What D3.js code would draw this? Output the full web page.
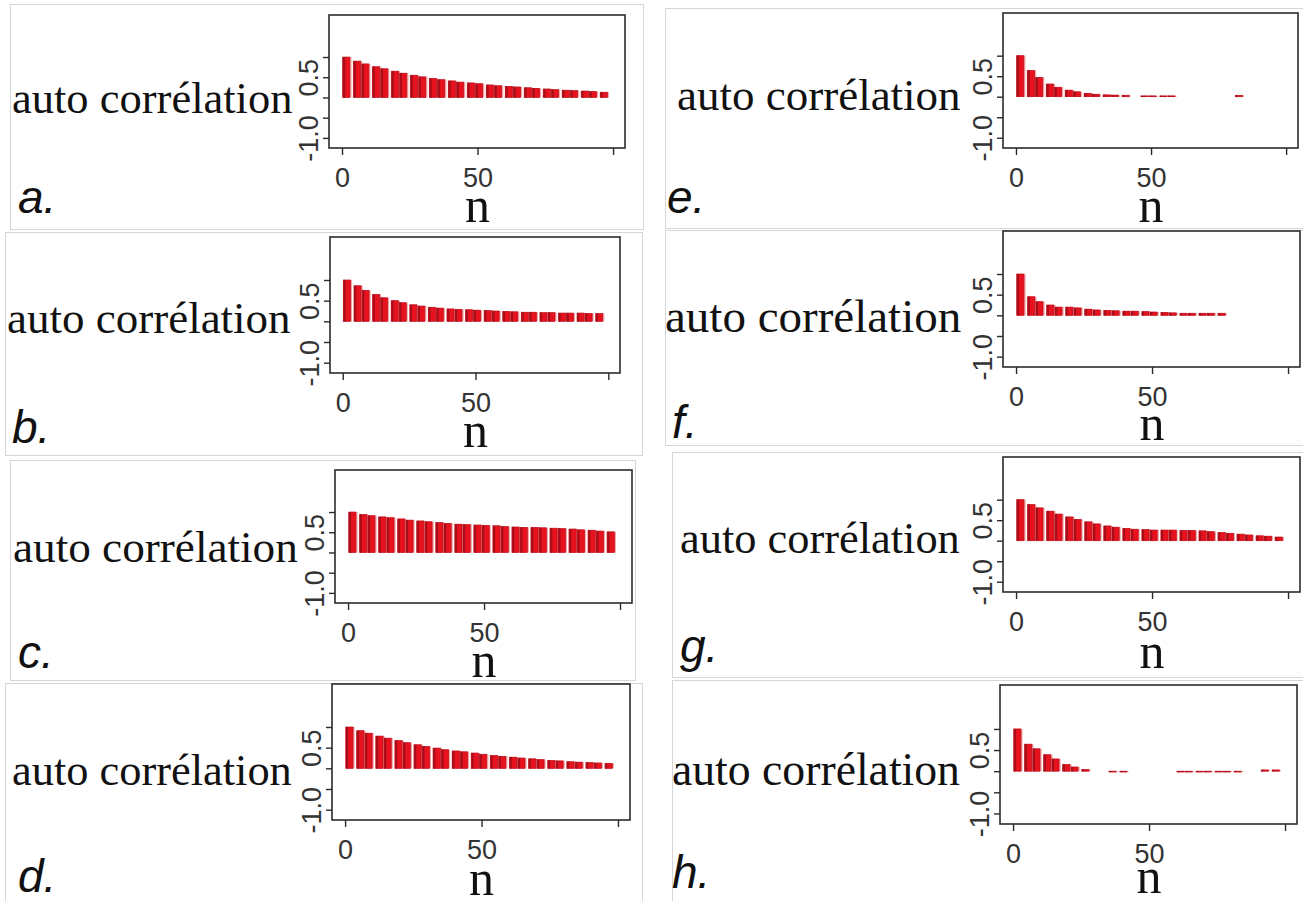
<!DOCTYPE html>
<html>
<head>
<meta charset="utf-8">
<script src="https://cdn.jsdelivr.net/npm/d3@7"></script>
<style>
  html, body { margin: 0; padding: 0; background: #ffffff; }
  svg { display: block; }
</style>
</head>
<body>
<svg id="chart" width="1303" height="901"></svg>
<script>
// ---------------- DATA ----------------
const lags = [0,4,7,11,14,18,21,25,28,32,35,39,42,46,49,53,56,60,63,67,70,74,77,81,84,88,91,95];
const valuesA = [1.0,0.9,0.83,0.76,0.71,0.65,0.6,0.55,0.51,0.47,0.44,0.41,0.38,0.36,0.34,0.31,0.29,0.275,0.26,0.24,0.225,0.21,0.195,0.18,0.17,0.16,0.145,0.13];
const valuesB = [1.0,0.86,0.75,0.65,0.57,0.5,0.45,0.4,0.37,0.34,0.32,0.3,0.29,0.28,0.27,0.26,0.25,0.24,0.23,0.22,0.22,0.21,0.21,0.2,0.2,0.2,0.19,0.19];
const valuesC = [1.0,0.94,0.91,0.88,0.86,0.83,0.8,0.78,0.76,0.74,0.72,0.7,0.69,0.68,0.67,0.66,0.64,0.63,0.62,0.62,0.61,0.6,0.59,0.58,0.56,0.55,0.53,0.51];
const valuesD = [1.0,0.91,0.85,0.78,0.73,0.67,0.62,0.57,0.53,0.49,0.45,0.42,0.4,0.37,0.34,0.31,0.29,0.27,0.25,0.23,0.21,0.19,0.18,0.16,0.15,0.14,0.13,0.12];
const valuesE = [1.0,0.64,0.47,0.31,0.23,0.16,0.12,0.08,0.06,0.045,0.04,0.035,null,0.02,0.02,0.02,0.02,null,null,null,null,null,null,0.03,null,null,null,null];
const valuesF = [1.0,0.45,0.33,0.25,0.2,0.2,0.18,0.15,0.13,0.12,0.11,0.1,0.1,0.09,0.08,0.07,0.06,0.05,0.05,0.05,0.05,0.05,null,null,null,null,null,null];
const valuesG = [1.0,0.88,0.8,0.72,0.65,0.58,0.52,0.46,0.41,0.36,0.33,0.3,0.28,0.27,0.26,0.26,0.26,0.25,0.25,0.24,0.22,0.2,0.18,0.16,0.14,0.12,0.11,0.09];
const valuesH = [1.0,0.64,0.53,0.39,0.29,0.16,0.1,0.04,null,null,-0.02,-0.02,null,null,null,null,null,-0.02,-0.02,-0.02,-0.02,-0.02,-0.02,-0.02,null,null,0.03,0.03];

const panelLetters = ["a.","b.","c.","d.","e.","f.","g.","h."];
const yTickValues = [-1.0,-0.5,0.0,0.5,1.0];
const yTickLabels = ["-1.0","","","0.5",""];
const xTickValues = [0,50,100];
const xTickLabels = ["0","50",""];
const yAxisTitle = "auto corrélation";
const xAxisTitle = "n";
const lagWidth = 3.5;

// ---------------- LAYOUT ----------------
const series = [valuesA,valuesB,valuesC,valuesD,valuesE,valuesF,valuesG,valuesH];
const layout = [
  {box:[329,15,296,133],  frame:[10,4,633,225],   lab:[12,113,44.5],  let:[18,213], n:222},
  {box:[330,237,290,136], frame:[5,232,637,223],  lab:[7,333,45],     let:[12,443], n:447},
  {box:[335,470,297,133], frame:[10,460,625,220], lab:[13,562,45.2],  let:[18,668], n:677},
  {box:[332,684,298,136], frame:[5,683,637,218],  lab:[12,785,44.4],  let:[18,892], n:895},
  {box:[1003,13,295,135], frame:[665,8,638,220],  lab:[677,110,45],   let:[667,213], n:222},
  {box:[1003,231,297,136],frame:[665,230,638,215],lab:[665,332,47],   let:[672,438], n:440},
  {box:[1003,457,297,135],frame:[672,452,631,225],lab:[680,553,44.4], let:[680,662], n:668},
  {box:[1000,685,297,139],frame:[672,680,631,221],lab:[672,785,45.7], let:[672,888], n:893}
];

const svg = d3.select("#chart");

series.forEach((vals, i) => {
  const L = layout[i];
  const [bx, by, bw, bh] = L.box;
  const x = d3.scaleLinear().domain([-4.8, 104.4]).range([bx, bx + bw]);
  const y = d3.scaleLinear().domain([-1.25, 2.04]).range([by + bh, by]);

  // outer frame
  svg.append("rect")
    .attr("x", L.frame[0] + 0.5).attr("y", L.frame[1] + 0.5)
    .attr("width", L.frame[2]).attr("height", L.frame[3])
    .attr("fill", "none").attr("stroke", "#d6d6d6").attr("stroke-width", 1);

  const g = svg.append("g");
  const data = lags.map((l, k) => ({lag: l, v: vals[k]})).filter(d => d.v !== null);

  // light under-layer
  g.selectAll("rect.bg").data(data).enter().append("rect")
    .attr("class", "bg")
    .attr("x", d => x(d.lag))
    .attr("width", d => x(d.lag + lagWidth) - x(d.lag))
    .attr("y", d => y(Math.max(d.v, 0)))
    .attr("height", d => Math.abs(y(d.v) - y(0)))
    .attr("fill", "#f5a3a3");
  // main red bar
  g.selectAll("rect.bar").data(data).enter().append("rect")
    .attr("class", "bar")
    .attr("x", d => x(d.lag + 0.3))
    .attr("width", d => x(d.lag + 2.9) - x(d.lag + 0.3))
    .attr("y", d => y(Math.max(d.v, 0)))
    .attr("height", d => Math.abs(y(d.v) - y(0)))
    .attr("fill", "#e8121f")
    .attr("stroke", "#b8101c").attr("stroke-width", 0.7);
  // dark edge
  g.selectAll("rect.edge").data(data).enter().append("rect")
    .attr("class", "edge")
    .attr("x", d => x(d.lag + 0.3))
    .attr("width", d => x(d.lag + 1.1) - x(d.lag + 0.3))
    .attr("y", d => y(Math.max(d.v, 0)))
    .attr("height", d => Math.abs(y(d.v) - y(0)))
    .attr("fill", "#a80d1a");

  // plot box
  svg.append("rect")
    .attr("x", bx).attr("y", by).attr("width", bw).attr("height", bh)
    .attr("fill", "none").attr("stroke", "#2b2b2b").attr("stroke-width", 1.6);

  // y axis
  const ya = svg.append("g").attr("transform", `translate(${bx},0)`)
    .call(d3.axisLeft(y).tickValues(yTickValues).tickSize(6).tickSizeOuter(0)
      .tickFormat((d, k) => yTickLabels[k]));
  ya.select(".domain").remove();
  ya.selectAll("line").attr("stroke", "#2b2b2b").attr("stroke-width", 1.4);
  ya.selectAll("text")
    .attr("x", 0).attr("dy", 0).attr("y", 0)
    .attr("transform", "translate(-11,0) rotate(-90)")
    .attr("text-anchor", "middle")
    .attr("font-family", "'Liberation Sans', Arial, sans-serif")
    .attr("font-size", 27).attr("fill", "#333");

  // x axis
  const xa = svg.append("g").attr("transform", `translate(0,${by + bh})`)
    .call(d3.axisBottom(x).tickValues(xTickValues).tickSize(7).tickSizeOuter(0)
      .tickFormat((d, k) => xTickLabels[k]));
  xa.select(".domain").remove();
  xa.selectAll("line").attr("stroke", "#2b2b2b").attr("stroke-width", 1.4);
  xa.selectAll("text")
    .attr("y", 39).attr("dy", 0)
    .attr("font-family", "'Liberation Sans', Arial, sans-serif")
    .attr("font-size", 27).attr("fill", "#333");

  // titles
  svg.append("text")
    .attr("x", L.lab[0]).attr("y", L.lab[1])
    .attr("font-family", "'Liberation Serif', 'Times New Roman', serif")
    .attr("font-size", L.lab[2]).attr("fill", "#111")
    .text(yAxisTitle);
  svg.append("text")
    .attr("x", x(50)).attr("y", L.n).attr("text-anchor", "middle")
    .attr("font-family", "'Liberation Serif', 'Times New Roman', serif")
    .attr("font-size", 50).attr("fill", "#111")
    .text(xAxisTitle);
  svg.append("text")
    .attr("x", L.let[0]).attr("y", L.let[1])
    .attr("font-family", "'Liberation Sans', Arial, sans-serif")
    .attr("font-style", "italic")
    .attr("font-size", 46).attr("fill", "#111")
    .text(panelLetters[i]);
});
</script>
</body>
</html>
